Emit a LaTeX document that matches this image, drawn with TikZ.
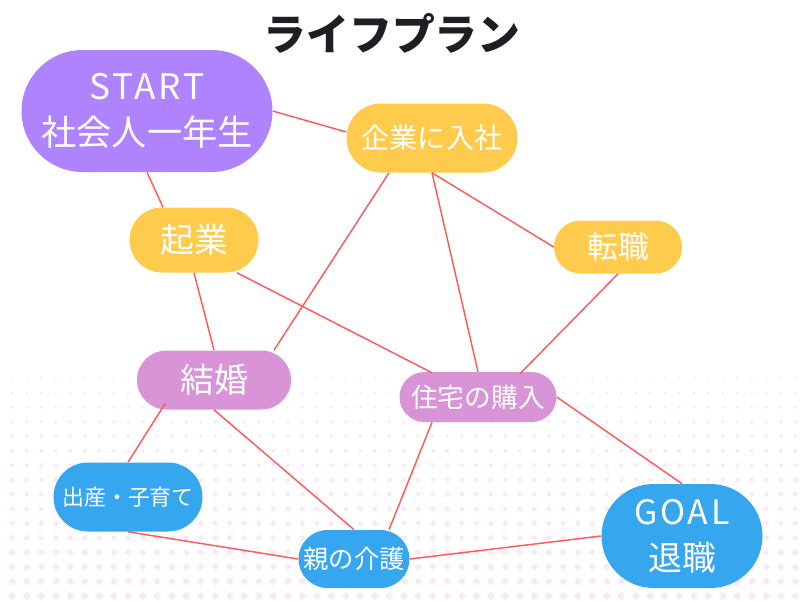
\documentclass[tikz,border=0pt]{standalone}
\usepackage{fontspec}
\setmainfont{Noto Sans CJK JP}
\usetikzlibrary{calc}
\definecolor{planInk}{HTML}{1E1E24}
\definecolor{planPurple}{HTML}{AF82FE}
\definecolor{planYellow}{HTML}{FECB4C}
\definecolor{planPink}{HTML}{D894D6}
\definecolor{planBlue}{HTML}{36A6EF}
\definecolor{planRed}{HTML}{FF5B5B}
\definecolor{planDot}{HTML}{FCE6FA}
\newcommand{\fsz}[2]{\fontsize{#1}{#2}\selectfont}

\begin{document}
\begin{tikzpicture}[x=0.025cm,y=-0.025cm,
  pill/.style 2 args={rectangle,inner sep=0pt,minimum width=#1*0.025cm,minimum height=#2*0.025cm,
    rounded corners=#2*0.0125cm,text=white,align=center},
  link/.style={draw=planRed,line width=1.05pt}]
  \useasboundingbox (0,0) rectangle (800,600);
  % dotted backdrop, dots grow toward the bottom
  \foreach \k in {0,...,15}{
    \foreach \i in {0,...,54}{
      \pgfmathsetmacro{\dx}{12.3+14.5*\i}
      \pgfmathsetmacro{\dy}{378.3+14.5*\k}
      \pgfmathsetmacro{\dr}{1.2+2.8*\k/15}
      \fill[planDot] (\dx-\dr,\dy) -- (\dx,\dy-\dr) -- (\dx+\dr,\dy) -- (\dx,\dy+\dr) -- cycle;
    }
  }
  \node[font=\fsz{30.5}{36}\bfseries,text=planInk] (title) at (392,33) {ライフプラン};

  \node[pill={251}{122},fill=planPurple,font=\fsz{25}{33}] (start) at (147,111)
    {{\addfontfeature{LetterSpace=8}START}\\社会人一年生};
  \node[pill={171}{69},fill=planYellow,font=\fsz{20}{24}] (company) at (432,138) {企業に入社};
  \node[pill={129}{65},fill=planYellow,font=\fsz{24}{28}] (startup) at (194,240) {起業};
  \node[pill={128}{53},fill=planYellow,font=\fsz{22}{26}] (jobchange) at (618,247) {転職};
  \node[pill={154}{59},fill=planPink,font=\fsz{24}{28}] (marriage) at (214,380) {結婚};
  \node[pill={157}{50},fill=planPink,font=\fsz{19}{23}] (house) at (478,397) {住宅の購入};
  \node[pill={149}{69},fill=planBlue,font=\fsz{15.6}{19}] (birth) at (128,497) {出産・子育て};
  \node[pill={111}{58},fill=planBlue,font=\fsz{18}{22}] (care) at (354,559) {親の介護};
  \node[pill={161}{104},fill=planBlue,font=\fsz{24}{33}] (goal) at (682,536)
    {{\addfontfeature{LetterSpace=8}GOAL}\\退職};

  \draw[link] (start.east) -- ($(company.west)+(0,-6)$);
  \draw[link] (start.south) -- ($(startup.north)+(-31,0)$);
  \draw[link] ($(company.south)+(-43,0)$) -- ($(marriage.north)+(60,0)$);
  \draw[link] (company.south) -- (house.north);
  \draw[link] (company.south) -- (jobchange.west);
  \draw[link] (startup.south) -- (marriage.north);
  \draw[link] ($(startup.south)+(43,0)$) -- ($(house.north)+(-46,1)$);
  \draw[link] (jobchange.south) -- ($(house.north)+(42,2)$);
  \draw[link] (house.east) -- (goal.north);
  \draw[link] ($(house.south)+(-46,0)$) -- ($(care.north)+(35,0)$);
  \draw[link] ($(marriage.south)+(-49,-6)$) -- (birth.north);
  \draw[link] (marriage.south) -- (care.north);
  \draw[link] (birth.south) -- (care.west);
  \draw[link] (care.east) -- (goal.west);
\end{tikzpicture}
\end{document}
